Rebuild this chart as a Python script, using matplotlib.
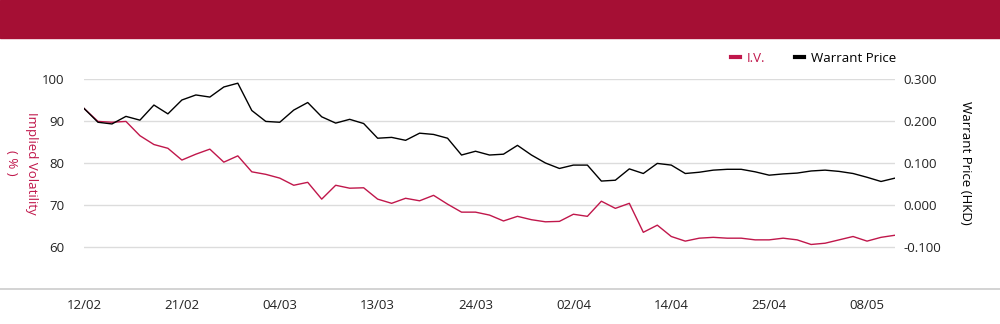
import matplotlib.pyplot as plt
from matplotlib.lines import Line2D

# trading days, 12/02 .. 12/05
dates = ["12/02", "13/02", "14/02", "17/02", "18/02", "19/02", "20/02", "21/02",
         "24/02", "25/02", "26/02", "27/02", "28/02", "03/03", "04/03",
         "05/03", "06/03", "07/03", "10/03", "11/03", "12/03", "13/03",
         "14/03", "17/03", "18/03", "19/03", "20/03", "21/03", "24/03",
         "25/03", "26/03", "27/03", "28/03", "31/03", "01/04", "02/04",
         "03/04", "07/04", "08/04", "09/04", "10/04", "11/04", "14/04",
         "15/04", "16/04", "17/04", "22/04", "23/04", "24/04", "25/04",
         "28/04", "29/04", "30/04", "02/05", "06/05", "07/05", "08/05",
         "09/05", "12/05"]

iv = [93.0, 89.9, 89.7, 89.9, 86.5, 84.4, 83.5, 80.7, 82.1, 83.3,
      80.2, 81.7, 77.9, 77.3, 76.4, 74.7, 75.4, 71.4, 74.7, 74.0,
      74.1, 71.4, 70.4, 71.6, 71.0, 72.3, 70.2, 68.3, 68.3, 67.6,
      66.2, 67.3, 66.5, 66.0, 66.1, 67.8, 67.3, 70.9, 69.2, 70.4,
      63.5, 65.2, 62.5, 61.4, 62.1, 62.3, 62.1, 62.1, 61.7, 61.7,
      62.1, 61.7, 60.6, 60.9, 61.7, 62.5, 61.4, 62.3, 62.8]

price = [0.230, 0.197, 0.193, 0.211, 0.202, 0.238, 0.217, 0.250, 0.262, 0.257,
         0.281, 0.290, 0.225, 0.199, 0.197, 0.226, 0.244, 0.210, 0.195, 0.204,
         0.194, 0.159, 0.161, 0.154, 0.171, 0.168, 0.159, 0.119, 0.128, 0.119,
         0.121, 0.142, 0.119, 0.100, 0.087, 0.095, 0.095, 0.057, 0.059, 0.086,
         0.075, 0.099, 0.095, 0.075, 0.078, 0.083, 0.085, 0.085, 0.079, 0.071,
         0.074, 0.076, 0.081, 0.083, 0.080, 0.075, 0.066, 0.056, 0.064]

iv_ticks = [60, 70, 80, 90, 100]
price_ticks = [-0.1, 0.0, 0.1, 0.2, 0.3]

RED = "#c0174b"
BANNER = "#a50f34"
GRID = "#dcdcdc"

plt.rcParams['font.family'] = ['Open Sans', 'DejaVu Sans']

fig = plt.figure(figsize=(10, 3.24), dpi=100)

# top banner and the full-width base line
fig.patches.append(plt.Rectangle((0, 1 - 38 / 324), 1, 38 / 324, transform=fig.transFigure,
                                 color=BANNER, zorder=0))
fig.lines.append(Line2D([0, 1], [1 - 289 / 324] * 2, transform=fig.transFigure,
                        color="#cccccc", lw=1.2))

ax = fig.add_axes([0.084, 1 - 289 / 324, 0.811, (289 - 79) / 324])
ax2 = ax.twinx()

x = list(range(len(dates)))
ax.plot(x, iv, color=RED, lw=1.0, zorder=3)
ax2.plot(x, price, color="black", lw=1.0)

ax.set_xlim(0, len(dates) - 1)
ax.set_ylim(50, 100)
ax2.set_ylim(-0.2, 0.3)

ax.set_yticks(iv_ticks)
ax2.set_yticks(price_ticks)
ax2.set_yticklabels([f"{v:.3f}" for v in price_ticks])
ax.set_xticks(x[::7])
ax.set_xticklabels(dates[::7], fontsize=9.5)

ax.grid(axis="y", color=GRID, lw=1)
ax.set_axisbelow(True)
for a in (ax, ax2):
    for s in a.spines.values():
        s.set_visible(False)
    a.tick_params(length=0, labelsize=9.5, colors="#222222")
ax.tick_params(axis="y", pad=14)
ax2.tick_params(axis="y", pad=6)
ax.tick_params(axis="x", pad=7)

# axis titles, both read top to bottom
ymid = 1 - 163 / 324
fig.text(0.031, ymid, "Implied Volatility", rotation=270, color=RED,
         fontsize=9.5, ha="center", va="center")
fig.text(0.011, ymid, "( % )", rotation=270, color=RED,
         fontsize=9.5, ha="center", va="center")
fig.text(0.966, ymid, "Warrant Price (HKD)", rotation=270,
         color="black", fontsize=9.5, ha="center", va="center")

handles = [Line2D([], [], color=RED, lw=3), Line2D([], [], color="black", lw=3)]
fig.legend(handles, ["I.V.", "Warrant Price"], loc="center right",
           bbox_to_anchor=(0.908, 1 - 58 / 324), ncol=2, frameon=False,
           fontsize=9.5, handlelength=0.7, handletextpad=0.5, columnspacing=2.25,
           labelcolor=[RED, "black"])

fig.savefig("out.png", dpi=100)
